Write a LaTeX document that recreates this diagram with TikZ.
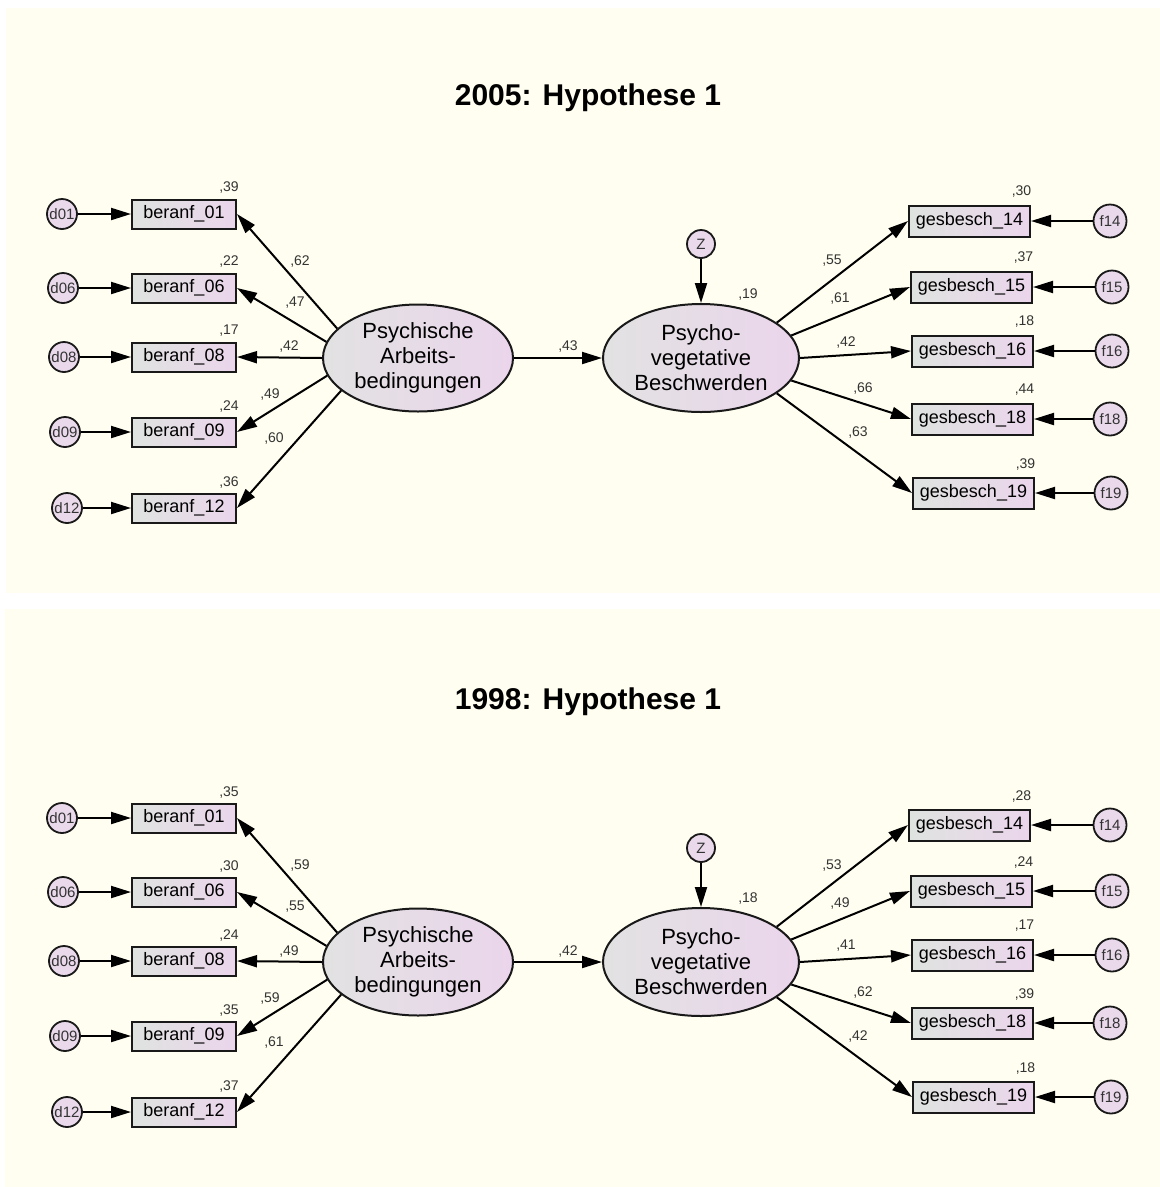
\documentclass[tikz,border=0pt]{standalone}
\usepackage{fontspec}
\setmainfont{Liberation Sans}
\usetikzlibrary{shapes.geometric,arrows.meta}
\definecolor{bg}{HTML}{FFFEF0}
\definecolor{lgrey}{HTML}{DFE3E0}
\definecolor{lpink}{HTML}{EBD5EC}
\definecolor{cpink}{HTML}{E9D9EB}
\definecolor{egrey}{HTML}{E2E2E2}
\definecolor{numc}{HTML}{333333}
\tikzset{
 obs/.style={draw=black!90, line width=2pt, left color=lgrey, right color=lpink, minimum height=29pt, inner sep=0pt, font=\fontsize{18}{20}\selectfont},
 lobs/.style={obs, minimum width=104pt},
 robs/.style={obs, minimum width=121pt, minimum height=31pt},
 errc/.style={circle, draw=black!90, line width=1.8pt, fill=cpink, minimum size=30pt, inner sep=0pt, text=black!80, font=\fontsize{15}{15}\selectfont},
 lat/.style={ellipse, draw=black!90, line width=2pt, left color=egrey, right color=lpink, minimum width=190pt, minimum height=107pt, inner sep=0pt, align=center, font=\fontsize{22}{25}\selectfont},
 num/.style={font=\fontsize{14}{14}\selectfont, text=numc, inner sep=1pt},
 arr/.style={draw=black, line width=2pt, -{Triangle[length=20pt,width=12pt]}},
 ttl/.style={font=\bfseries\fontsize{30}{32}\selectfont}
}
\newcommand{\sempanel}[6]{%
 \node[ttl] (#1title) at (588,98) {#2};
 \node[lat] (#1e1) at (418,358) {Psychische\\Arbeits-\\bedingungen};
 \node[lat, minimum width=196pt, minimum height=108pt] (#1e2) at (701,358) {Psycho-\\vegetative\\Beschwerden};
 \node[errc, minimum size=28pt] (#1z) at (701,244) {Z};
 \draw[arr] (#1z) -- (#1e2);
 \draw[arr] (#1e1) -- (#1e2);
 \node[num] (#1pm) at (568,347) {,#4};
 \node[num] (#1vz) at (748,294) {,#5};
 \foreach \id/\y/\dx/\ang/\v/\p/\px/\py in {#3} {
   \node[errc] (#1d\id) at (\dx,\y) {d\id};
   \node[lobs] (#1b\id) at (184,\y) {beranf\_\id};
   \draw[arr] (#1d\id) -- (#1b\id);
   \draw[arr] (#1e1.\ang) -- (#1b\id.east);
   \node[num] (#1vb\id) at (229,\y-26) {,\v};
   \node[num] (#1pb\id) at (\px,\py) {,\p};
 }
 \foreach \id/\y/\fx/\bx/\ang/\v/\p/\px/\py in {#6} {
   \node[errc, minimum size=33pt] (#1f\id) at (\fx,\y) {f\id};
   \node[robs] (#1g\id) at (\bx,\y) {gesbesch\_\id};
   \draw[arr] (#1f\id) -- (#1g\id);
   \draw[arr] (#1e2.\ang) -- (#1g\id.west);
   \node[num] (#1vg\id) at (\bx+52,\y-29) {,\v};
   \node[num] (#1pg\id) at (\px,\py) {,\p};
 }
}
\begin{document}
\begin{tikzpicture}[x=1pt,y=-1pt]
\fill[white] (0,0) rectangle (1160,1187);
\useasboundingbox (0,0) rectangle (1160,1187);
\fill[bg] (6,8) rectangle (1160,593);
\fill[bg] (5,609) rectangle (1160,1187);
\sempanel{A}{2005: Hypothese 1}%
 {01/214/62/160/39/62/300/261, 06/288/63/170/22/47/295/303, 08/357/64/180/17/42/289/347, 09/432/65/191/24/49/270/394, 12/508/67/203/36/60/274/438}%
 {43}{19}%
 {14/221/1110/969.5/25/30/55/832/261, 15/287/1112/971.5/14/37/61/840/299, 16/351/1112/972.5/0/18/42/846/342, 18/419/1110/972.5/-14/44/66/863/388, 19/493/1111/973.5/-25/39/63/858/432}
\begin{scope}[yshift=-604pt]
\sempanel{B}{1998: Hypothese 1}%
 {01/214/62/160/35/59/300/261, 06/288/63/170/30/55/295/303, 08/357/64/180/24/49/289/347, 09/432/65/191/35/59/270/394, 12/508/67/203/37/61/274/438}%
 {42}{18}%
 {14/221/1110/969.5/25/28/53/832/261, 15/287/1112/971.5/14/24/49/840/299, 16/351/1112/972.5/0/17/41/846/342, 18/419/1110/972.5/-14/39/62/863/388, 19/493/1111/973.5/-25/18/42/858/432}
\end{scope}
\end{tikzpicture}
\end{document}
